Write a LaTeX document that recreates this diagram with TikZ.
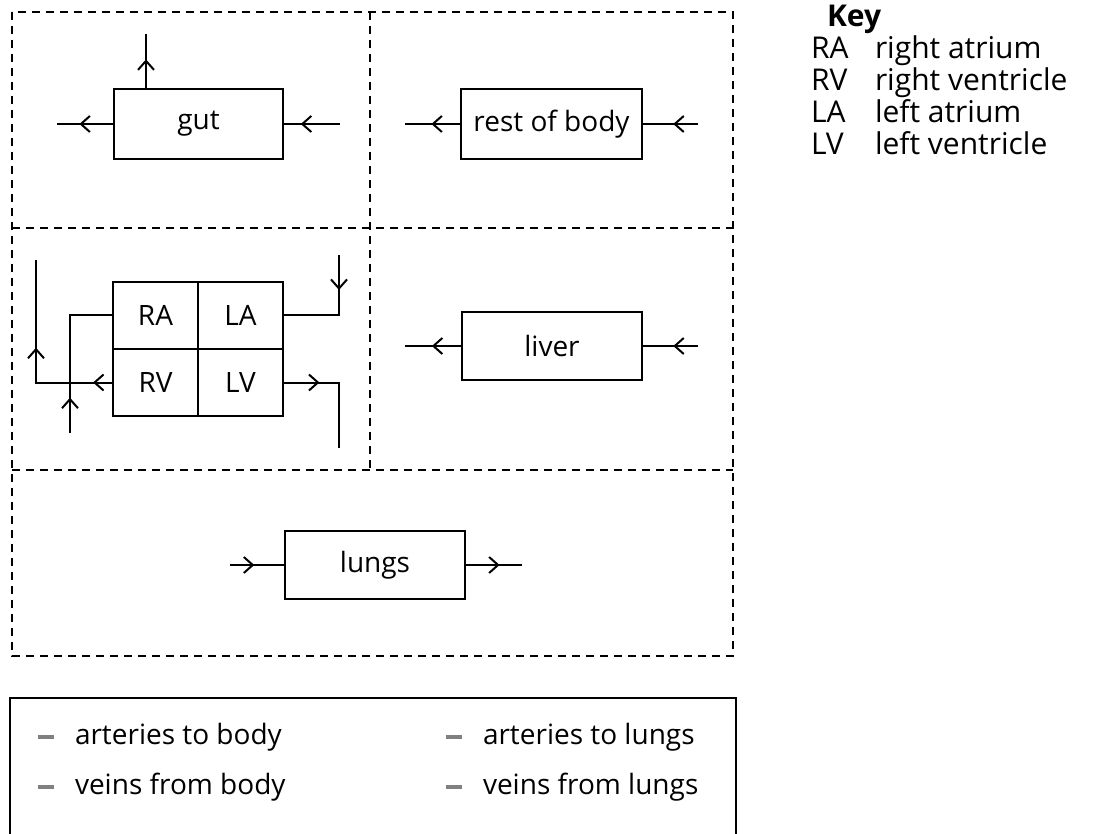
\documentclass[tikz,border=0pt]{standalone}
\usepackage{fontspec}
\setmainfont{Open Sans}
\usetikzlibrary{positioning,arrows.meta,decorations.markings}

\begin{document}
\begin{tikzpicture}[x=0.5pt, y=-0.5pt, line width=1pt,
  organ/.style={draw, rectangle, inner sep=0pt, font=\fontsize{14}{16}\selectfont},
  chamber/.style={organ, outer sep=0pt, minimum width=42.5pt, minimum height=33.5pt},
  region/.style={dash pattern=on 4pt off 3pt},
  flow/.style={postaction={decorate, decoration={markings,
    mark=at position #1 with {\arrow{Straight Barb[length=4.5pt,width=8pt]}}}}},
  keytext/.style={anchor=base west, inner sep=0pt, font=\fontsize{15}{17}\selectfont},
  legtext/.style={anchor=west, inner sep=0pt, font=\fontsize{14}{16}\selectfont},
  legdash/.style={fill=gray, inner sep=0pt, minimum width=8pt, minimum height=1.8pt}]
  \useasboundingbox (0,0) rectangle (1098,834);

  % dashed regions of the body
  \draw[region] (12,12) rectangle (733,656);
  \draw[region] (12,228) -- (733,228);
  \draw[region] (12,470) -- (733,470);
  \draw[region] (370,12) -- (370,470);

  % organs
  \node[organ, minimum width=84.5pt, minimum height=35pt] (gut) at (198.5,124) {gut};
  \node[organ, minimum width=90.5pt, minimum height=35pt] (body) at (551.5,124) {rest of body};
  \node[organ, minimum width=90pt, minimum height=34pt] (liver) at (552,346) {liver};
  \node[organ, minimum width=90pt, minimum height=34pt] (lungs) at (375,565) {lungs};

  % heart: four chambers
  \node[chamber] (RA) at (155.5,315.5) {RA};
  \node[chamber, right=0pt of RA] (LA) {LA};
  \node[chamber, below=0pt of RA] (RV) {RV};
  \node[chamber, right=0pt of RV] (LV) {LV};

  % free ends of the vessels
  \coordinate (gutup) at (146,34);
  \coordinate (gutout) at (57,124);  \coordinate (gutin) at (340,124);
  \coordinate (bodyout) at (405,124); \coordinate (bodyin) at (698,124);
  \coordinate (liverout) at (405,346); \coordinate (liverin) at (698,346);
  \coordinate (lungsin) at (230,565); \coordinate (lungsout) at (522,565);
  \coordinate (rain) at (70,433);   \coordinate (rvout) at (36,260);
  \coordinate (lain) at (339,255);  \coordinate (lvout) at (339,448);

  % vessels
  \draw[flow=0.53] (gut.north -| gutup) -- (gutup);
  \draw[flow=0.6] (gut) -- (gutout);
  \draw[flow=0.7] (gutin) -- (gut);
  \draw[flow=0.52] (body) -- (bodyout);
  \draw[flow=0.45] (bodyin) -- (body);
  \draw[flow=0.52] (liver) -- (liverout);
  \draw[flow=0.45] (liverin) -- (liver);
  \draw[flow=0.45] (lungsin) -- (lungs);
  \draw[flow=0.6] (lungs) -- (lungsout);
  \draw[flow=0.22] (rain) |- (RA.west);
  \draw[flow=0.1, flow=0.56] (RV.west) -| (rvout);
  \draw[flow=0.3] (lain) |- (LA.east);
  \draw[flow=0.3] (LV.east) -| (lvout);

  % key
  \node[keytext, font=\fontsize{15}{17}\selectfont\bfseries] (key) at (826,27) {Key};
  \node[keytext] (kra) at (810,59) {RA};  \node[keytext] (dra) at (874,59) {right atrium};
  \node[keytext] (krv) at (810,91) {RV};  \node[keytext] (drv) at (874,91) {right ventricle};
  \node[keytext] (kla) at (810,123) {LA}; \node[keytext] (dla) at (874,123) {left atrium};
  \node[keytext] (klv) at (810,155) {LV}; \node[keytext] (dlv) at (874,155) {left ventricle};

  % legend
  \draw (10,834) -- (10,698) -- (736,698) -- (736,834);
  \node[legdash] (d1) at (46,737) {}; \node[legtext] (l1) at (74,737) {arteries to body};
  \node[legdash] (d2) at (46,787) {}; \node[legtext] (l2) at (74,787) {veins from body};
  \node[legdash] (d3) at (454,737) {}; \node[legtext] (l3) at (482,737) {arteries to lungs};
  \node[legdash] (d4) at (454,787) {}; \node[legtext] (l4) at (482,787) {veins from lungs};
\end{tikzpicture}
\end{document}
